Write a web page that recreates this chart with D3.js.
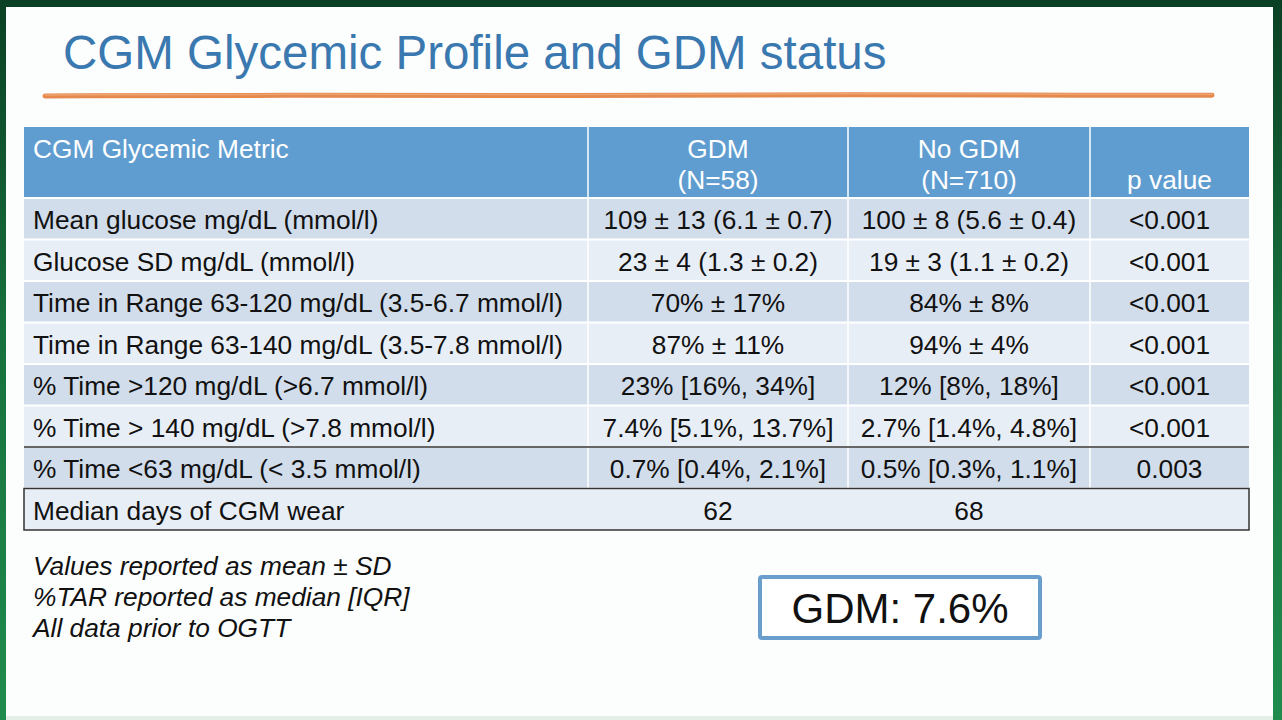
<!DOCTYPE html>
<html>
<head>
<meta charset="utf-8">
<script src="https://cdn.jsdelivr.net/npm/d3@7"></script>
<style>
  html, body { margin: 0; padding: 0; background: #fcfdfd; overflow: hidden; }
  svg { display: block; font-family: "Liberation Sans", Arial, sans-serif; }
</style>
</head>
<body>
<svg width="1282" height="720"></svg>
<script>
const svg = d3.select("svg"),
      width = +svg.attr("width"),
      height = +svg.attr("height");

// table content
const title = "CGM Glycemic Profile and GDM status";
const headerTop = ["CGM Glycemic Metric", "GDM", "No GDM", ""];
const headerBottom = ["", "(N=58)", "(N=710)", "p value"];
const metrics = [
  "Mean glucose mg/dL (mmol/l)",
  "Glucose SD mg/dL (mmol/l)",
  "Time in Range 63-120 mg/dL (3.5-6.7 mmol/l)",
  "Time in Range 63-140 mg/dL (3.5-7.8 mmol/l)",
  "% Time >120 mg/dL (>6.7 mmol/l)",
  "% Time > 140 mg/dL (>7.8 mmol/l)",
  "% Time <63 mg/dL (< 3.5 mmol/l)",
  "Median days of CGM wear"
];
const gdmValues = [
  "109 ± 13 (6.1 ± 0.7)", "23 ± 4 (1.3 ± 0.2)", "70% ± 17%", "87% ± 11%",
  "23% [16%, 34%]", "7.4% [5.1%, 13.7%]", "0.7% [0.4%, 2.1%]", "62"
];
const noGdmValues = [
  "100 ± 8 (5.6 ± 0.4)", "19 ± 3 (1.1 ± 0.2)", "84% ± 8%", "94% ± 4%",
  "12% [8%, 18%]", "2.7% [1.4%, 4.8%]", "0.5% [0.3%, 1.1%]", "68"
];
const pValues = ["<0.001", "<0.001", "<0.001", "<0.001", "<0.001", "<0.001", "0.003", ""];
const notes = ["Values reported as mean ± SD", "%TAR reported as median [IQR]", "All data prior to OGTT"];
const callout = "GDM: 7.6%";

// frame gradients
const defs = svg.append("defs");
const sideGrad = defs.append("linearGradient").attr("id", "side")
  .attr("x1", 0).attr("y1", 0).attr("x2", 0).attr("y2", 1);
sideGrad.append("stop").attr("offset", "0%").attr("stop-color", "#0b4024");
sideGrad.append("stop").attr("offset", "45%").attr("stop-color", "#17703d");
sideGrad.append("stop").attr("offset", "100%").attr("stop-color", "#1f8c4d");

svg.append("rect").attr("width", width).attr("height", height).attr("fill", "#fcfdfd");
svg.append("rect").attr("x", 0).attr("y", 0).attr("width", 6).attr("height", height).attr("fill", "url(#side)");
svg.append("rect").attr("x", 1273).attr("y", 0).attr("width", 9).attr("height", height).attr("fill", "url(#side)");
svg.append("rect").attr("x", 0).attr("y", 0).attr("width", width).attr("height", 7).attr("fill", "#0a4124");
svg.append("rect").attr("x", 6).attr("y", 716).attr("width", 1267).attr("height", 4).attr("fill", "#e4efe8");

// title
svg.append("text")
  .attr("x", 63).attr("y", 69)
  .attr("fill", "#3a78b0")
  .attr("font-size", 47.5)
  .text(title);

// orange brush stroke
const brush = d3.line().curve(d3.curveBasis);
const bx = d3.scaleLinear().domain([0, 1]).range([45, 1212]);
const brushPts = [[0, 96], [0.2, 95], [0.45, 95.8], [0.7, 94.4], [0.9, 95.4], [1, 95.2]];
svg.append("path")
  .attr("d", brush(brushPts.map(p => [bx(p[0]), p[1]])))
  .attr("fill", "none").attr("stroke", "#e5894d").attr("stroke-width", 5)
  .attr("stroke-linecap", "round");
svg.append("path")
  .attr("d", brush(brushPts.map(p => [bx(p[0]), p[1] - 1])))
  .attr("fill", "none").attr("stroke", "#f2ac7c").attr("stroke-width", 1.5)
  .attr("stroke-linecap", "round").attr("opacity", 0.7);

// table layout
const colEdges = [24, 588, 848, 1090, 1249];
const headerY0 = 127, headerY1 = 198;
const y = d3.scaleBand().domain(d3.range(metrics.length)).range([headerY1, 530]);
const colCenter = i => (colEdges[i] + colEdges[i + 1]) / 2;
const fs = 26.3;

const table = svg.append("g");

// header
table.append("rect")
  .attr("x", colEdges[0]).attr("y", headerY0)
  .attr("width", colEdges[4] - colEdges[0]).attr("height", headerY1 - headerY0)
  .attr("fill", "#5f9dd0");

headerTop.forEach((t, i) => {
  table.append("text")
    .attr("x", i === 0 ? 33 : colCenter(i)).attr("y", 158)
    .attr("text-anchor", i === 0 ? "start" : "middle")
    .attr("fill", "#ffffff").attr("font-size", fs).text(t);
  table.append("text")
    .attr("x", i === 0 ? 33 : colCenter(i)).attr("y", 189)
    .attr("text-anchor", i === 0 ? "start" : "middle")
    .attr("fill", "#ffffff").attr("font-size", fs).text(headerBottom[i]);
});

// body rows
const rows = table.selectAll("g.row")
  .data(metrics.map((m, i) => ({ i, cells: [m, gdmValues[i], noGdmValues[i], pValues[i]] })))
  .enter().append("g").attr("class", "row");

rows.append("rect")
  .attr("x", colEdges[0]).attr("y", d => y(d.i))
  .attr("width", colEdges[4] - colEdges[0]).attr("height", y.bandwidth())
  .attr("fill", d => d.i % 2 === 0 ? "#d1ddea" : "#e8eef6");

rows.selectAll("text")
  .data(d => d.cells.map((c, j) => ({ c, j, i: d.i })))
  .enter().append("text")
  .attr("x", d => d.j === 0 ? 33 : colCenter(d.j))
  .attr("y", d => y(d.i) + y.bandwidth() / 2 + 10.5)
  .attr("text-anchor", d => d.j === 0 ? "start" : "middle")
  .attr("fill", "#111111").attr("font-size", fs)
  .text(d => d.c);

// white grid lines
const lastRow = metrics.length - 1;
d3.range(1, metrics.length).forEach(i => {
  table.append("line")
    .attr("x1", colEdges[0]).attr("x2", colEdges[4])
    .attr("y1", y(i)).attr("y2", y(i))
    .attr("stroke", "#ffffff").attr("stroke-width", 2);
});
table.append("line")
  .attr("x1", colEdges[0]).attr("x2", colEdges[4])
  .attr("y1", headerY1).attr("y2", headerY1)
  .attr("stroke", "#ffffff").attr("stroke-width", 2);
colEdges.slice(1, 4).forEach(x => {
  table.append("line")
    .attr("x1", x).attr("x2", x)
    .attr("y1", headerY0).attr("y2", y(lastRow))
    .attr("stroke", "#ffffff").attr("stroke-width", 1.5);
});

// dark rules
table.append("line")
  .attr("x1", colEdges[0]).attr("x2", colEdges[4])
  .attr("y1", y(6)).attr("y2", y(6))
  .attr("stroke", "#333333").attr("stroke-width", 1.5);
table.append("rect")
  .attr("x", colEdges[0]).attr("y", y(lastRow))
  .attr("width", colEdges[4] - colEdges[0]).attr("height", y.bandwidth())
  .attr("fill", "none").attr("stroke", "#333333").attr("stroke-width", 1.5);

// notes
svg.append("g").selectAll("text")
  .data(notes).enter().append("text")
  .attr("x", 33).attr("y", (d, i) => 575 + i * 31)
  .attr("font-style", "italic").attr("font-size", fs).attr("fill", "#111111")
  .text(d => d);

// callout box
svg.append("rect")
  .attr("x", 760).attr("y", 577).attr("width", 280).attr("height", 61)
  .attr("rx", 2).attr("fill", "#ffffff")
  .attr("stroke", "#6a9fcd").attr("stroke-width", 4);
svg.append("text")
  .attr("x", 900).attr("y", 623)
  .attr("text-anchor", "middle").attr("font-size", 42).attr("fill", "#111111")
  .text(callout);
</script>
</body>
</html>
